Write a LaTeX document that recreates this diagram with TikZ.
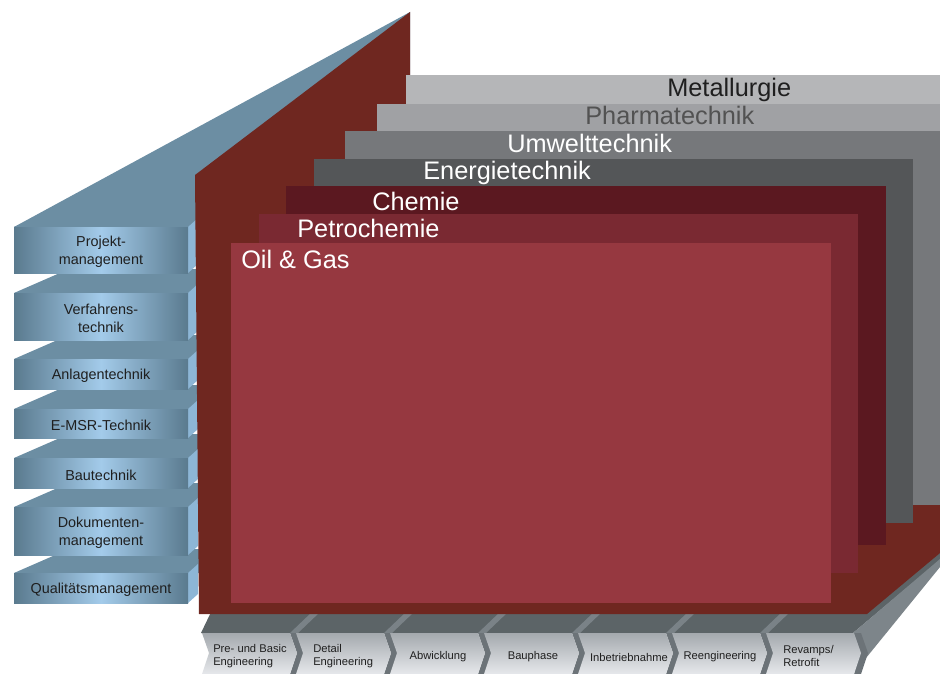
\documentclass[tikz,border=0pt]{standalone}
\usepackage{fontspec}
\setmainfont{Liberation Sans}
\definecolor{wallred}{HTML}{6F2720}
\definecolor{slate}{HTML}{6C8EA3}
\definecolor{slateedge}{HTML}{5A7A8E}
\definecolor{skyblue}{HTML}{A3CBEA}
\definecolor{sideblue}{HTML}{8DB6D6}
\definecolor{inkgrey}{HTML}{1F1F1F}
\definecolor{metalgrey}{HTML}{B5B6B8}
\definecolor{pharmagrey}{HTML}{A0A1A4}
\definecolor{umweltgrey}{HTML}{76787B}
\definecolor{energiegrey}{HTML}{545658}
\definecolor{chemiered}{HTML}{5B1820}
\definecolor{petrored}{HTML}{7A2932}
\definecolor{oilred}{HTML}{963840}
\definecolor{bandgrey}{HTML}{5C6467}
\definecolor{stripegrey}{HTML}{7A8287}
\definecolor{sidegrey}{HTML}{7D858A}
\definecolor{notchgrey}{HTML}{6C7378}
\definecolor{phasetop}{HTML}{A4A9AE}
\definecolor{phasebottom}{HTML}{E6E8EB}
\begin{document}
\begin{tikzpicture}[x=0.75pt,y=-0.75pt,
    topface/.style={fill=slate},
    sideface/.style={fill=sideblue},
    frontface/.style={left color=slateedge,right color=slateedge,middle color=skyblue},
    boxlabel/.style={text=inkgrey,font=\fontsize{10.8}{13.5}\selectfont,align=center,inner sep=0pt},
    paneltitle/.style={anchor=base west,font=\fontsize{19}{22}\selectfont,inner sep=0pt},
    phaseface/.style={top color=phasetop,bottom color=phasebottom},
    phaselabel/.style={text=inkgrey,font=\fontsize{8.4}{10.2}\selectfont,align=left,inner sep=0pt}]
  \useasboundingbox (0,0) rectangle (940,674);

  % left column (lowest box first)
  \fill[topface] (14,227) -- (410,12) -- (410,227) -- cycle;
  \foreach \yt/\yb/\txt [count=\i] in {573/603/Qualitätsmanagement,
      507/555/{Dokumenten-\\management}, 458/488/Bautechnik,
      409/438/E-MSR-Technik, 359/389/Anlagentechnik,
      293/340/{Verfahrens-\\technik}, 227/273/{Projekt-\\management}} {
    \fill[topface] (14,\yt) -- (69,\yt-24) -- (199,\yt-24) -- (199,\yt) -- cycle;
    \fill[sideface] (188,\yt) -- (198,\yt-9) -- (198,\yb-9) -- (188,\yb) -- cycle;
    \shade[frontface] (14,\yt) rectangle (188,\yb);
    \node[boxlabel] (box\i) at (101,{(\yt+\yb)/2+2}) {\txt};
  }

  % base slab under the floor
  \fill[bandgrey] (213,608) -- (201,633) -- (853,633) -- (940,560) -- (940,548) -- cycle;
  \foreach \r in {290,384,478,572,666,760}
    \fill[stripegrey] (\r,633) -- (\r+8,633) -- (\r+30,612) -- (\r+22,612) -- cycle;
  \fill[sidegrey] (853,633) -- (940,559) -- (940,567) -- (853,674) -- cycle;

  % red wall and floor
  \fill[wallred] (195,175) -- (410,12) -- (410,76) -- (940,76) -- (940,553)
    -- (867,614) -- (199,614) -- cycle;

  % branch panels, back to front
  \fill[metalgrey] (406,75) rectangle (940,505);
  \fill[pharmagrey] (377,104) rectangle (940,505);
  \fill[umweltgrey] (345,131) rectangle (940,505);
  \fill[energiegrey] (314,159) rectangle (913,523);
  \fill[chemiered] (286,186) rectangle (886,545);
  \fill[petrored] (259,214) rectangle (858,573);
  \fill[oilred] (231,243) rectangle (831,603);

  \node[paneltitle,text=inkgrey] (metall) at (667,97) {Metallurgie};
  \node[paneltitle,text=black!68] (pharma) at (585,125) {Pharmatechnik};
  \node[paneltitle,text=white] (umwelt) at (507,152) {Umwelttechnik};
  \node[paneltitle,text=white] (energie) at (423,180) {Energietechnik};
  \node[paneltitle,text=white] (chemie) at (372,210) {Chemie};
  \node[paneltitle,text=white] (petro) at (297,238) {Petrochemie};
  \node[paneltitle,text=white] (oilgas) at (241,268) {Oil \& Gas};

  % project phases
  \foreach \l in {202,296,390,484,578,672,766} {
    \fill[notchgrey] (\l+88,633) -- (\l+95,653) -- (\l+88,674) -- (\l+95,674)
      -- (\l+102,653) -- (\l+95,633) -- cycle;
    \shade[phaseface] (\l,633) -- (\l+7,653) -- (\l,674) -- (\l+88,674)
      -- (\l+95,653) -- (\l+88,633) -- cycle;
  }
  \node[phaselabel,anchor=west] (prebasic) at (213,656) {Pre- und Basic\\Engineering};
  \node[phaselabel,anchor=west] (detail) at (313,656) {Detail\\Engineering};
  \node[phaselabel] (abwicklung) at (438,657) {Abwicklung};
  \node[phaselabel] (bauphase) at (533,657) {Bauphase};
  \node[phaselabel] (inbetrieb) at (629,657) {Inbetriebnahme};
  \node[phaselabel] (reeng) at (720,657) {Reengineering};
  \node[phaselabel,anchor=west] (revamps) at (783,656) {Revamps/\\Retrofit};
\end{tikzpicture}
\end{document}
